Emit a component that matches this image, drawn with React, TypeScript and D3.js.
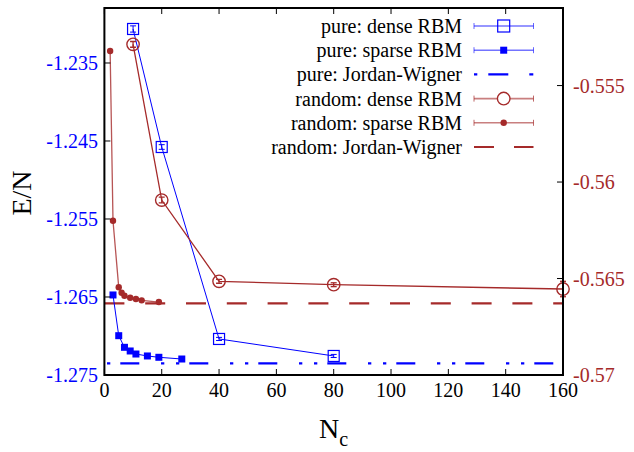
import React from "react";
import * as d3 from "d3";

// ---- data ----
const pureDenseN = [10, 20, 40, 80];
const pureDenseE = [-1.23064, -1.24577, -1.27038, -1.27256];
const pureDenseErr = [0.0004, 0.0003, 0.0002, 0.0002];

const pureSparseN = [3, 5, 7, 9, 11, 15, 19, 27];
const pureSparseE = [-1.26474, -1.26996, -1.27145, -1.27192, -1.27231, -1.27256, -1.27273, -1.27295];

const pureJW = -1.2735;

const randDenseN = [10, 20, 40, 80, 160];
const randDenseE = [-0.552865, -0.560933, -0.565145, -0.565321, -0.565544];
const randDenseErr = [0.00015, 0.00015, 0.0001, 0.0001, 0.0004];

const randSparseN = [2, 3, 5, 6, 7, 9, 11, 13, 19];
const randSparseE = [-0.553212, -0.562005, -0.565456, -0.565736, -0.565891, -0.565995, -0.566062, -0.56613, -0.566218];

const randJW = -0.566285;

const xTicks = [0, 20, 40, 60, 80, 100, 120, 140, 160];
const leftTicks = [-1.235, -1.245, -1.255, -1.265, -1.275];
const leftTickLabels = ["-1.235", "-1.245", "-1.255", "-1.265", "-1.275"];
const rightTicks = [-0.555, -0.56, -0.565, -0.57];
const rightTickLabels = ["-0.555", "-0.56", "-0.565", "-0.57"];

const legendLabels = [
  "pure: dense RBM",
  "pure: sparse RBM",
  "pure: Jordan-Wigner",
  "random: dense RBM",
  "random: sparse RBM",
  "random: Jordan-Wigner",
];

const BLUE = "#0000ff";
const RED = "#a52a2a";
const FONT = "Liberation Serif";

export default function App() {
  const W = 634, H = 452;
  const left = 104.4, right = 563, top = 8, bottom = 375;
  const x = d3.scaleLinear().domain([0, 160]).range([left, right]);
  const yL = d3.scaleLinear().domain([-1.275, -1.22795]).range([bottom, top]);
  const yR = d3.scaleLinear().domain([-0.57, -0.55098]).range([bottom, top]);

  const lineL = d3.line<[number, number]>().x((d) => x(d[0])).y((d) => yL(d[1]));
  const lineR = d3.line<[number, number]>().x((d) => x(d[0])).y((d) => yR(d[1]));

  const pd = pureDenseN.map((n, i) => [n, pureDenseE[i]] as [number, number]);
  const ps = pureSparseN.map((n, i) => [n, pureSparseE[i]] as [number, number]);
  const rd = randDenseN.map((n, i) => [n, randDenseE[i]] as [number, number]);
  const rs = randSparseN.map((n, i) => [n, randSparseE[i]] as [number, number]);

  const legX0 = 474, legX1 = 533.5, legXc = 503.7, legTextX = 462;
  const legY = (i: number) => 26 + i * 24.2;
  const tf = { fontFamily: FONT };

  return (
    <svg
      width={W}
      height={H}
      style={{ position: "absolute", left: 0, top: 0, background: "#fff", fontFamily: FONT }}
    >
      <rect x={0} y={0} width={W} height={H} fill="#fff" />
      <defs>
        <clipPath id="plotclip">
          <rect x={left} y={top - 8} width={right - left + 8} height={bottom - top + 8} />
        </clipPath>
      </defs>

      {/* JW reference lines */}
      <line
        x1={x(0)} x2={x(160)} y1={yL(pureJW)} y2={yL(pureJW)}
        stroke={BLUE} strokeWidth={2.2}
        strokeDasharray="19,21.7,3.3,11.7,3.3,10" strokeDashoffset={53.1}
      />
      <line
        x1={x(0)} x2={x(160)} y1={yR(randJW)} y2={yR(randJW)}
        stroke={RED} strokeWidth={2.2}
        strokeDasharray="20,20.8" strokeDashoffset={0}
      />

      {/* connecting lines */}
      <path d={lineL(pd) || ""} fill="none" stroke={BLUE} strokeWidth={1} />
      <path d={lineL(ps) || ""} fill="none" stroke={BLUE} strokeWidth={1} />
      <path d={lineR(rd) || ""} fill="none" stroke={RED} strokeWidth={1.3} />
      <path d={lineR(rs) || ""} fill="none" stroke={RED} strokeWidth={1.3} strokeOpacity={0.8} />

      {/* pure dense markers with error bars */}
      {pd.map((d, i) => {
        const cx = x(d[0]), cy = yL(d[1]);
        const y1 = yL(d[1] - pureDenseErr[i]), y2 = yL(d[1] + pureDenseErr[i]);
        return (
          <g key={"pd" + i}>
            <line x1={cx} x2={cx} y1={y1} y2={y2} stroke={BLUE} strokeWidth={1} />
            <line x1={cx - 3} x2={cx + 3} y1={y1} y2={y1} stroke={BLUE} strokeWidth={1} />
            <line x1={cx - 3} x2={cx + 3} y1={y2} y2={y2} stroke={BLUE} strokeWidth={1} />
            <rect x={cx - 5.5} y={cy - 5.5} width={11} height={11} fill="none" stroke={BLUE} strokeWidth={1.2} />
          </g>
        );
      })}

      {/* pure sparse markers */}
      {ps.map((d, i) => (
        <rect key={"ps" + i} x={x(d[0]) - 3.5} y={yL(d[1]) - 3.5} width={7} height={7} fill={BLUE} />
      ))}

      {/* random dense markers */}
      <g clipPath="url(#plotclip)">
        {rd.map((d, i) => {
          const cx = x(d[0]), cy = yR(d[1]);
          const y1 = yR(d[1] - randDenseErr[i]), y2 = yR(d[1] + randDenseErr[i]);
          return (
            <g key={"rd" + i}>
              <line x1={cx} x2={cx} y1={y1} y2={y2} stroke={RED} strokeWidth={1.3} />
              <line x1={cx - 3} x2={cx + 3} y1={y1} y2={y1} stroke={RED} strokeWidth={1.3} />
              <line x1={cx - 3} x2={cx + 3} y1={y2} y2={y2} stroke={RED} strokeWidth={1.3} />
              <circle cx={cx} cy={cy} r={6.2} fill="none" stroke={RED} strokeWidth={1.4} />
            </g>
          );
        })}
      </g>

      {/* random sparse markers */}
      {rs.map((d, i) => (
        <circle key={"rs" + i} cx={x(d[0])} cy={yR(d[1])} r={3.2} fill={RED} />
      ))}

      {/* frame */}
      <rect x={left} y={top} width={right - left} height={bottom - top} fill="none" stroke="#000" strokeWidth={2} />

      {/* x ticks */}
      {xTicks.map((t) => (
        <g key={"xt" + t}>
          <line x1={x(t)} x2={x(t)} y1={bottom} y2={bottom - 6} stroke="#000" strokeWidth={1} />
          <line x1={x(t)} x2={x(t)} y1={top} y2={top + 6} stroke="#000" strokeWidth={1} />
          <text x={x(t)} y={397} textAnchor="middle" fontSize={20} fill="#000" style={tf}>{t}</text>
        </g>
      ))}

      {/* left ticks */}
      {leftTicks.map((t, i) => (
        <g key={"lt" + i}>
          <line x1={left} x2={left + 6} y1={yL(t)} y2={yL(t)} stroke="#000" strokeWidth={1} />
          <text x={98} y={yL(t)} dy="0.35em" textAnchor="end" fontSize={20} fill={BLUE} style={tf}>{leftTickLabels[i]}</text>
        </g>
      ))}

      {/* right ticks */}
      {rightTicks.map((t, i) => (
        <g key={"rt" + i}>
          <line x1={right} x2={right - 6} y1={yR(t)} y2={yR(t)} stroke="#000" strokeWidth={1} />
          <text x={573} y={yR(t)} dy="0.35em" textAnchor="start" fontSize={20} fill={RED} style={tf}>{rightTickLabels[i]}</text>
        </g>
      ))}

      {/* axis titles */}
      <text transform="translate(31,193) rotate(-90)" textAnchor="middle" fontSize={28} fill="#000" style={tf}>E/N</text>
      <text x={333.5} y={438} textAnchor="middle" fontSize={28} fill="#000" style={tf}>
        N<tspan fontSize={20} dy={8}>c</tspan>
      </text>

      {/* legend */}
      {legendLabels.map((lab, i) => (
        <text key={"lg" + i} x={legTextX} y={legY(i)} dy="0.35em" textAnchor="end" fontSize={20} fill="#000" style={tf}>{lab}</text>
      ))}
      {/* legend samples */}
      {[0, 1].map((i) => (
        <g key={"lsb" + i}>
          <line x1={legX0} x2={legX1} y1={legY(i)} y2={legY(i)} stroke={BLUE} strokeOpacity={0.55} strokeWidth={1.6} />
          <line x1={legX0} x2={legX0} y1={legY(i) - 3} y2={legY(i) + 3} stroke={BLUE} strokeOpacity={0.6} strokeWidth={1} />
          <line x1={legX1} x2={legX1} y1={legY(i) - 3} y2={legY(i) + 3} stroke={BLUE} strokeOpacity={0.6} strokeWidth={1} />
        </g>
      ))}
      <rect x={legXc - 6} y={legY(0) - 6} width={12} height={12} fill="none" stroke={BLUE} strokeWidth={1.2} />
      <rect x={legXc - 3.5} y={legY(1) - 3.5} width={7} height={7} fill={BLUE} />
      <line x1={legX0} x2={legX1} y1={legY(2)} y2={legY(2)} stroke={BLUE} strokeWidth={2.2}
        strokeDasharray="3.3,11,20,21,4" />
      {[3, 4].map((i) => (
        <g key={"lsr" + i}>
          <line x1={legX0} x2={legX1} y1={legY(i)} y2={legY(i)} stroke={RED} strokeOpacity={0.6} strokeWidth={1.6} />
          <line x1={legX0} x2={legX0} y1={legY(i) - 3} y2={legY(i) + 3} stroke={RED} strokeOpacity={0.7} strokeWidth={1} />
          <line x1={legX1} x2={legX1} y1={legY(i) - 3} y2={legY(i) + 3} stroke={RED} strokeOpacity={0.7} strokeWidth={1} />
        </g>
      ))}
      <circle cx={legXc} cy={legY(3)} r={6.3} fill="#fff" stroke={RED} strokeWidth={1.4} />
      <circle cx={legXc} cy={legY(4)} r={3.2} fill={RED} />
      <line x1={legX0} x2={legX1} y1={legY(5)} y2={legY(5)} stroke={RED} strokeWidth={2.2}
        strokeDasharray="20,20,20" />
    </svg>
  );
}
